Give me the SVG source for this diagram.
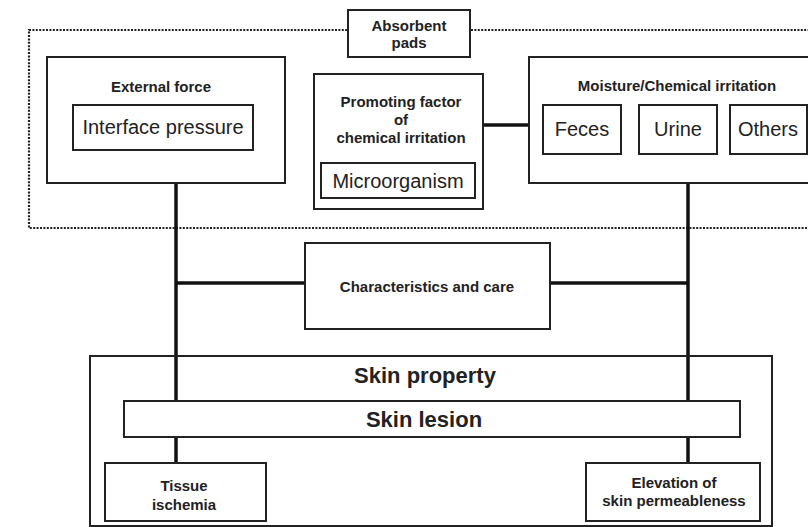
<svg xmlns="http://www.w3.org/2000/svg" width="808" height="527" viewBox="0 0 808 527">
<style>
.box{fill:#fff;stroke:#222;stroke-width:2}
.b{font-family:"Liberation Sans",Arial,sans-serif;font-weight:bold;font-size:15px;fill:#222;text-anchor:middle}
.r{font-family:"Liberation Sans",Arial,sans-serif;font-size:20px;fill:#222;text-anchor:middle}
.big{font-family:"Liberation Sans",Arial,sans-serif;font-weight:bold;font-size:22px;fill:#222;text-anchor:middle}
.c{stroke:#111;stroke-width:3.5;fill:none}
</style>
<rect x="0" y="0" width="808" height="527" fill="#fff"/>
<g id="absorbent-area">
<rect x="29" y="30" width="800" height="198" fill="none" stroke="#222" stroke-width="2.2" stroke-dasharray="2 1.4"/>
</g>
<g id="connectors">
<line class="c" x1="176" y1="183" x2="176" y2="401"/>
<line class="c" x1="176" y1="437" x2="176" y2="463"/>
<line class="c" x1="688" y1="183" x2="688" y2="401"/>
<line class="c" x1="688" y1="437" x2="688" y2="463"/>
<line class="c" x1="176" y1="283" x2="305" y2="283"/>
<line class="c" x1="550" y1="283" x2="688" y2="283"/>
<line class="c" x1="483" y1="125" x2="529" y2="125"/>
</g>
<g id="absorbent-pads">
<rect class="box" x="348" y="10" width="122" height="47"/>
<text class="b" x="409" y="31">Absorbent</text>
<text class="b" x="409" y="48">pads</text>
</g>
<g id="external-force">
<rect class="box" x="47" y="57" width="238" height="126"/>
<text class="b" x="161" y="92">External force</text>
<g id="interface-pressure">
<rect class="box" x="73" y="105" width="180" height="45"/>
<text class="r" x="163" y="134">Interface pressure</text>
</g>
</g>
<g id="promoting-factor">
<rect class="box" x="314" y="74" width="169" height="135"/>
<text class="b" x="401" y="107">Promoting factor</text>
<text class="b" x="401" y="125">of</text>
<text class="b" x="401" y="143">chemical irritation</text>
<g id="microorganism">
<rect class="box" x="321" y="163" width="154" height="35"/>
<text class="r" x="398" y="188">Microorganism</text>
</g>
</g>
<g id="moisture">
<rect class="box" x="529" y="57" width="300" height="126"/>
<text class="b" x="677" y="91">Moisture/Chemical irritation</text>
<g id="feces">
<rect class="box" x="543" y="105" width="78" height="49"/>
<text class="r" x="582" y="136">Feces</text>
</g>
<g id="urine">
<rect class="box" x="639" y="105" width="78" height="49"/>
<text class="r" x="678" y="136">Urine</text>
</g>
<g id="others">
<rect class="box" x="730" y="105" width="77" height="49"/>
<text class="r" x="768" y="136">Others</text>
</g>
</g>
<g id="characteristics">
<rect class="box" x="305" y="243" width="245" height="86"/>
<text class="b" x="427" y="292">Characteristics and care</text>
</g>
<g id="skin-property">
<rect x="90" y="356" width="682" height="170" fill="none" stroke="#222" stroke-width="2"/>
<text class="big" x="425" y="383">Skin property</text>
</g>
<g id="skin-lesion">
<rect class="box" x="124" y="401" width="616" height="36"/>
<text class="big" x="424" y="427">Skin lesion</text>
</g>
<g id="tissue-ischemia">
<rect class="box" x="105" y="463" width="161" height="58"/>
<text class="b" x="184" y="491">Tissue</text>
<text class="b" x="184" y="510">ischemia</text>
</g>
<g id="elevation">
<rect class="box" x="586" y="463" width="174" height="58"/>
<text class="b" x="674" y="488">Elevation of</text>
<text class="b" x="674" y="506">skin permeableness</text>
</g>
</svg>
